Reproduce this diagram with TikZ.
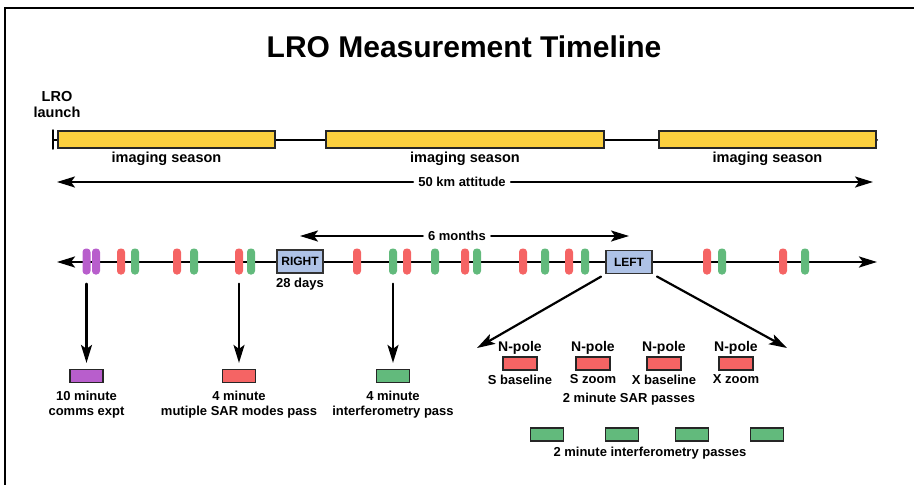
\documentclass[tikz,border=0pt]{standalone}
\usepackage{fontspec}
\setmainfont{Liberation Sans}
\usepackage{tikz}
\usetikzlibrary{arrows.meta,positioning}
\definecolor{seasonyellow}{RGB}{252,208,62}
\definecolor{commspurple}{RGB}{184,94,204}
\definecolor{sarred}{RGB}{245,100,100}
\definecolor{ifmgreen}{RGB}{98,186,124}
\definecolor{sideblue}{RGB}{174,194,230}

\begin{document}
\begin{tikzpicture}[x=1pt,y=-1pt,>={Stealth[length=18pt,width=11pt,inset=4pt]},line cap=round,
  lbl/.style={font=\fontsize{13}{14.5}\selectfont\bfseries,inner sep=0pt,align=center},
  biglbl/.style={font=\fontsize{14.5}{16}\selectfont\bfseries,inner sep=0pt,align=center},
  season/.style={draw=black!85,line width=1.2pt,fill=seasonyellow,minimum height=17pt,inner sep=0pt},
  passmark/.style={rounded corners=3.5pt,minimum width=8pt,minimum height=26pt,inner sep=0pt,fill=#1},
  passbox/.style={draw=black!85,line width=1.2pt,fill=#1,minimum width=33pt,minimum height=13pt,inner sep=0pt},
  sidebox/.style={draw=black!80,line width=1.2pt,fill=sideblue,minimum width=46pt,minimum height=23pt,inner sep=0pt,font=\fontsize{12}{14}\selectfont\bfseries}]
\useasboundingbox (0,0) rectangle (914,485);
\draw[line width=2pt] (5,500) -- (5,8) -- (920,8);
\node[font=\fontsize{30}{36}\selectfont\bfseries] (title) at (464,47) {LRO Measurement Timeline};
\node[biglbl] (launch) at (57,105) {LRO\\launch};

% imaging seasons
\coordinate (t0) at (53,140);
\coordinate (t1) at (877,140);
\draw[line width=1.5pt] ([yshift=10pt]t0) -- ([yshift=-9pt]t0);
\draw[line width=2pt] (t0) -- (t1);
\node[season,minimum width=217pt] (s1) at (166.5,139.5) {};
\node[season,minimum width=278pt] (s2) at (465,139.5) {};
\node[season,minimum width=217pt] (s3) at (767.5,139.5) {};
\node[biglbl,below=3pt of s1] (s1lbl) {imaging season};
\node[biglbl,below=3pt of s2] (s2lbl) {imaging season};
\node[biglbl,below=3pt of s3] (s3lbl) {imaging season};

\node[lbl,inner xsep=5pt] (km) at (462,182) {50 km attitude};
\coordinate (kmL) at (57,182);
\coordinate (kmR) at (873,182);
\draw[->,line width=2.2pt] (km) -- (kmL);
\draw[->,line width=2.2pt] (km) -- (kmR);

% pass timeline
\coordinate (tlL) at (57,262);
\coordinate (tlR) at (877,262);
\draw[<->,line width=2.4pt] (tlL) -- (tlR);
\node[sidebox] (right) at (300,261.5) {RIGHT};
\node[sidebox] (left) at (629,262) {LEFT};
\node[lbl,below=4pt of right] (days) {28 days};
\node[lbl,inner xsep=5pt] (six) at (457,236) {6 months};
\draw[->,line width=2.2pt] (six) -- (right |- six);
\draw[->,line width=2.2pt] (six) -- (left |- six);
\node[passmark=commspurple] (p1) at (86.5,261.5) {};
\node[passmark=commspurple] (p2) at (96,261.5) {};
\node[passmark=sarred] (r1) at (121,261.5) {};
\node[passmark=ifmgreen] (g1) at (135,261.5) {};
\node[passmark=sarred] (r2) at (177,261.5) {};
\node[passmark=ifmgreen] (g2) at (194,261.5) {};
\node[passmark=sarred] (r3) at (239,261.5) {};
\node[passmark=ifmgreen] (g3) at (251,261.5) {};
\node[passmark=sarred] (r4) at (357,261.5) {};
\node[passmark=ifmgreen] (g4) at (393,261.5) {};
\node[passmark=sarred] (r5) at (407,261.5) {};
\node[passmark=ifmgreen] (g5) at (435,261.5) {};
\node[passmark=sarred] (r6) at (465,261.5) {};
\node[passmark=ifmgreen] (g6) at (477,261.5) {};
\node[passmark=sarred] (r7) at (523,261.5) {};
\node[passmark=ifmgreen] (g7) at (545,261.5) {};
\node[passmark=sarred] (r8) at (569,261.5) {};
\node[passmark=ifmgreen] (g8) at (585,261.5) {};
\node[passmark=sarred] (r9) at (707,261.5) {};
\node[passmark=ifmgreen] (g9) at (722,261.5) {};
\node[passmark=sarred] (r10) at (783,261.5) {};
\node[passmark=ifmgreen] (g10) at (805,261.5) {};

% legend below
\node[passbox=commspurple] (commsbox) at (86.5,376) {};
\node[passbox=sarred] (sarbox) at (239,376) {};
\node[passbox=ifmgreen] (ifmbox) at (393,376) {};
\node[lbl,below=8pt of commsbox] (commslbl) {10 minute\\comms expt};
\node[lbl,below=8pt of sarbox] (sarlbl) {4 minute\\mutiple SAR modes pass};
\node[lbl,below=8pt of ifmbox] (ifmlbl) {4 minute\\interferometry pass};
\draw[->,line width=2.2pt,shorten <=9pt,shorten >=6pt] (p1.south) -- (commsbox.north);
\draw[->,line width=2.2pt,shorten <=9pt,shorten >=6pt] (r3.south) -- (sarbox.north);
\draw[->,line width=2.2pt,shorten <=9pt,shorten >=6pt] (g4.south) -- (ifmbox.north);

% LEFT passes
\coordinate (sarL) at (477,348);
\coordinate (sarR) at (787,348);
\draw[->,line width=2.2pt,shorten <=5pt] (left.south west) -- (sarL);
\draw[->,line width=2.2pt,shorten <=5pt] (left.south east) -- (sarR);
\node[passbox=sarred,minimum width=34pt] (n1) at (520,363.5) {};
\node[passbox=sarred,minimum width=34pt] (n2) at (593,363.5) {};
\node[passbox=sarred,minimum width=34pt] (n3) at (664,363.5) {};
\node[passbox=sarred,minimum width=34pt] (n4) at (736,363.5) {};
\node[biglbl,font=\fontsize{14}{16}\selectfont\bfseries,above=2pt of n1] (n1top) {N-pole};
\node[biglbl,font=\fontsize{14}{16}\selectfont\bfseries,above=2pt of n2] (n2top) {N-pole};
\node[biglbl,font=\fontsize{14}{16}\selectfont\bfseries,above=2pt of n3] (n3top) {N-pole};
\node[biglbl,font=\fontsize{14}{16}\selectfont\bfseries,above=2pt of n4] (n4top) {N-pole};
\node[lbl,below=4pt of n1] (n1lbl) {S baseline};
\node[lbl,below=4pt of n2] (n2lbl) {S zoom};
\node[lbl,below=4pt of n3] (n3lbl) {X baseline};
\node[lbl,below=4pt of n4] (n4lbl) {X zoom};
\node[lbl] (sarpasses) at (629,399) {2 minute SAR passes};
\node[passbox=ifmgreen] (i1) at (547,434.5) {};
\node[passbox=ifmgreen] (i2) at (622,434.5) {};
\node[passbox=ifmgreen] (i3) at (692,434.5) {};
\node[passbox=ifmgreen] (i4) at (767,434.5) {};
\node[lbl] (ifmpasses) at (650,453) {2 minute interferometry passes};
\end{tikzpicture}
\end{document}
